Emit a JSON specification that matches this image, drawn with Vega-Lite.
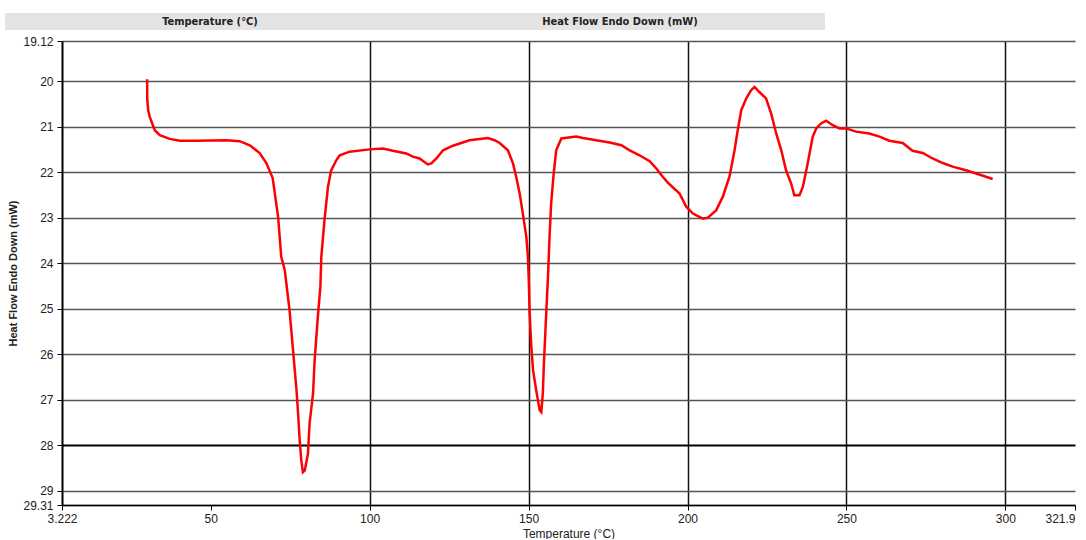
{
  "$schema": "https://vega.github.io/schema/vega-lite/v6.json",
  "background": "white",
  "padding": {"left": 5, "top": 13, "right": 0, "bottom": 0},
  "spacing": 5,
  "config": {
    "view": {"stroke": null},
    "font": "Liberation Sans"
  },
  "datasets": {
    "dsc": [
      {"t": 30.0, "hf": 19.96}, {"t": 30.05, "hf": 20.42}, {"t": 30.35, "hf": 20.64}, {"t": 30.8, "hf": 20.78},
      {"t": 32.4, "hf": 21.08}, {"t": 34.0, "hf": 21.19}, {"t": 37.1, "hf": 21.27}, {"t": 40.3, "hf": 21.31},
      {"t": 45.5, "hf": 21.31}, {"t": 54.9, "hf": 21.30}, {"t": 59.1, "hf": 21.32}, {"t": 62.3, "hf": 21.41},
      {"t": 65.4, "hf": 21.58}, {"t": 67.5, "hf": 21.80}, {"t": 69.5, "hf": 22.13}, {"t": 71.2, "hf": 22.98},
      {"t": 72.2, "hf": 23.86}, {"t": 73.3, "hf": 24.15}, {"t": 74.8, "hf": 25.03}, {"t": 75.9, "hf": 25.91},
      {"t": 77.0, "hf": 26.79}, {"t": 77.5, "hf": 27.30}, {"t": 78.0, "hf": 27.89}, {"t": 78.5, "hf": 28.33},
      {"t": 79.0, "hf": 28.59}, {"t": 79.6, "hf": 28.55}, {"t": 80.6, "hf": 28.18}, {"t": 81.1, "hf": 27.52},
      {"t": 82.2, "hf": 26.86}, {"t": 82.7, "hf": 26.13}, {"t": 83.7, "hf": 25.18}, {"t": 84.5, "hf": 24.52},
      {"t": 84.8, "hf": 23.86}, {"t": 85.8, "hf": 23.05}, {"t": 86.9, "hf": 22.32}, {"t": 87.9, "hf": 21.96},
      {"t": 89.5, "hf": 21.74}, {"t": 90.6, "hf": 21.63}, {"t": 93.7, "hf": 21.55}, {"t": 100.0, "hf": 21.50},
      {"t": 104.2, "hf": 21.48}, {"t": 107.3, "hf": 21.53}, {"t": 111.5, "hf": 21.59}, {"t": 113.6, "hf": 21.66},
      {"t": 115.7, "hf": 21.70}, {"t": 118.3, "hf": 21.83}, {"t": 119.4, "hf": 21.81}, {"t": 121.0, "hf": 21.70},
      {"t": 123.1, "hf": 21.52}, {"t": 126.2, "hf": 21.42}, {"t": 129.3, "hf": 21.35}, {"t": 131.4, "hf": 21.30},
      {"t": 134.6, "hf": 21.27}, {"t": 137.2, "hf": 21.25}, {"t": 139.3, "hf": 21.30}, {"t": 140.9, "hf": 21.36},
      {"t": 143.5, "hf": 21.52}, {"t": 145.1, "hf": 21.81}, {"t": 146.1, "hf": 22.10}, {"t": 147.2, "hf": 22.47},
      {"t": 148.2, "hf": 22.91}, {"t": 149.3, "hf": 23.42}, {"t": 149.8, "hf": 23.86}, {"t": 150.1, "hf": 24.45},
      {"t": 150.3, "hf": 25.03}, {"t": 150.8, "hf": 25.76}, {"t": 151.4, "hf": 26.35}, {"t": 152.4, "hf": 26.79},
      {"t": 153.5, "hf": 27.23}, {"t": 154.0, "hf": 27.27}, {"t": 154.5, "hf": 26.84}, {"t": 154.8, "hf": 26.24},
      {"t": 155.6, "hf": 25.03}, {"t": 156.1, "hf": 24.30}, {"t": 156.6, "hf": 23.42}, {"t": 157.1, "hf": 22.69},
      {"t": 157.9, "hf": 22.03}, {"t": 158.7, "hf": 21.52}, {"t": 160.3, "hf": 21.26}, {"t": 165.0, "hf": 21.22},
      {"t": 167.1, "hf": 21.25}, {"t": 171.3, "hf": 21.30}, {"t": 175.5, "hf": 21.35}, {"t": 179.2, "hf": 21.41},
      {"t": 181.8, "hf": 21.52}, {"t": 184.9, "hf": 21.63}, {"t": 188.1, "hf": 21.76}, {"t": 190.2, "hf": 21.92},
      {"t": 192.2, "hf": 22.10}, {"t": 193.8, "hf": 22.23}, {"t": 197.5, "hf": 22.47}, {"t": 199.6, "hf": 22.76},
      {"t": 201.7, "hf": 22.91}, {"t": 204.8, "hf": 23.02}, {"t": 206.4, "hf": 23.00}, {"t": 209.0, "hf": 22.84},
      {"t": 211.1, "hf": 22.54}, {"t": 213.2, "hf": 22.10}, {"t": 214.8, "hf": 21.52}, {"t": 215.8, "hf": 21.08},
      {"t": 216.9, "hf": 20.64}, {"t": 218.5, "hf": 20.38}, {"t": 220.0, "hf": 20.20}, {"t": 221.1, "hf": 20.13},
      {"t": 222.6, "hf": 20.24}, {"t": 224.7, "hf": 20.38}, {"t": 226.3, "hf": 20.71}, {"t": 227.9, "hf": 21.15},
      {"t": 229.5, "hf": 21.52}, {"t": 231.0, "hf": 21.96}, {"t": 232.6, "hf": 22.25}, {"t": 233.6, "hf": 22.51},
      {"t": 235.2, "hf": 22.51}, {"t": 236.3, "hf": 22.32}, {"t": 237.8, "hf": 21.81}, {"t": 239.4, "hf": 21.22},
      {"t": 240.5, "hf": 21.04}, {"t": 242.0, "hf": 20.93}, {"t": 243.6, "hf": 20.87}, {"t": 245.7, "hf": 20.97},
      {"t": 247.8, "hf": 21.04}, {"t": 249.9, "hf": 21.04}, {"t": 253.0, "hf": 21.11}, {"t": 257.2, "hf": 21.15},
      {"t": 260.4, "hf": 21.22}, {"t": 263.5, "hf": 21.31}, {"t": 267.7, "hf": 21.36}, {"t": 270.8, "hf": 21.53},
      {"t": 274.0, "hf": 21.58}, {"t": 277.1, "hf": 21.70}, {"t": 280.3, "hf": 21.80}, {"t": 283.4, "hf": 21.88},
      {"t": 287.6, "hf": 21.96}, {"t": 290.8, "hf": 22.03}, {"t": 293.9, "hf": 22.10}, {"t": 296.0, "hf": 22.15}
    ],
    "header": [
      {"col": "Temperature (°C)"},
      {"col": "Heat Flow Endo Down (mW)"}
    ]
  },
  "vconcat": [
    {
      "width": 820,
      "height": 17,
      "data": {"name": "header"},
      "encoding": {
        "x": {"field": "col", "type": "nominal", "sort": ["Temperature (°C)", "Heat Flow Endo Down (mW)"], "axis": null, "scale": {"paddingInner": 0, "paddingOuter": 0, "range": [-57, 763]}}
      },
      "layer": [
        {"mark": {"type": "rect", "color": "#e4e4e4", "clip": false}, "encoding": {}},
        {
          "mark": {"type": "text", "font": "DejaVu Sans Condensed", "fontWeight": "bold", "fontSize": 11, "color": "#222222", "baseline": "middle", "clip": false},
          "encoding": {"text": {"field": "col", "type": "nominal"}}
        }
      ]
    },
    {
      "width": 1013,
      "height": 464,
      "data": {"name": "dsc"},
      "mark": {"type": "line", "color": "#ff0000", "strokeWidth": 2.5, "clip": false},
      "encoding": {
        "x": {
          "field": "t",
          "type": "quantitative",
          "scale": {"domain": [3.222, 321.9], "nice": false, "zero": false},
          "axis": {
            "title": "Temperature (°C)",
            "titleFont": "Liberation Sans",
            "titleFontSize": 12,
            "titleFontWeight": "normal",
            "titleColor": "#222222",
            "titlePadding": 4,
            "values": [3.222, 50, 100, 150, 200, 250, 300, 321.9],
            "format": ".4~r",
            "labelFontSize": 12,
            "labelColor": "#222222",
            "labelPadding": 3,
            "labelFlush": false,
            "labelOverlap": false,
            "labelAlign": {"condition": {"test": "datum.value > 310", "value": "right"}, "value": "center"},
            "tickSize": 5,
            "tickColor": "#000000",
            "domain": true,
            "domainColor": "#000000",
            "domainWidth": 1.5,
            "grid": true,
            "gridColor": "#111111",
            "gridWidth": 1.5,
            "gridOpacity": {"condition": {"test": "datum.value == 50 || datum.value > 310 || datum.value < 5", "value": 0}, "value": 1}
          }
        },
        "y": {
          "field": "hf",
          "type": "quantitative",
          "scale": {"domain": [19.12, 29.31], "nice": false, "zero": false, "reverse": true},
          "axis": {
            "title": "Heat Flow Endo Down (mW)",
            "titleFont": "Liberation Sans",
            "titleFontSize": 11,
            "titleFontWeight": "bold",
            "titleColor": "#222222",
            "titlePadding": 4,
            "values": [19.12, 20, 21, 22, 23, 24, 25, 26, 27, 28, 29, 29.31],
            "format": ".4~r",
            "labelFontSize": 12,
            "labelColor": "#222222",
            "labelPadding": 4,
            "labelFlush": false,
            "labelOverlap": false,
            "tickSize": 5,
            "tickColor": "#000000",
            "domain": true,
            "domainColor": "#000000",
            "domainWidth": 2,
            "grid": true,
            "gridColor": {"condition": {"test": "datum.value == 28", "value": "#000000"}, "value": "#555555"},
            "gridWidth": {"condition": {"test": "datum.value == 28", "value": 2}, "value": 1.5}
          }
        }
      }
    }
  ]
}
